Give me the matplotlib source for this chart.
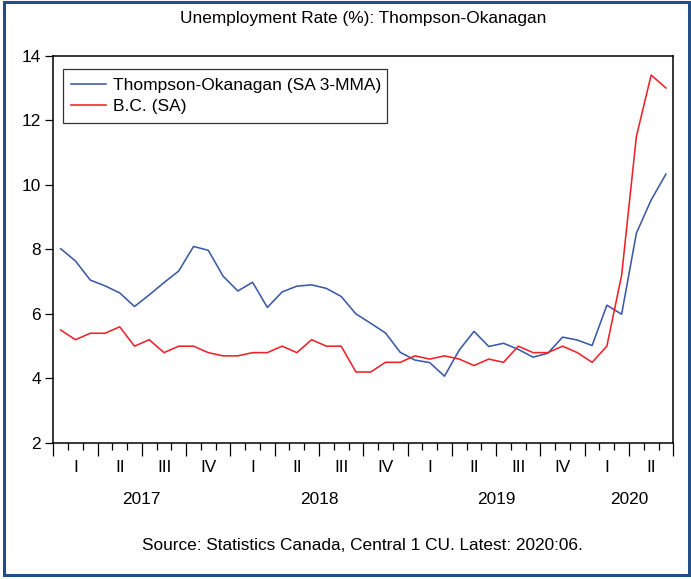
import matplotlib
matplotlib.use("Agg")
import matplotlib.pyplot as plt
import matplotlib.patches as mpatches
from matplotlib.transforms import blended_transform_factory
import numpy as np

plt.rcParams['font.family'] = ['Liberation Sans', 'DejaVu Sans']

# Monthly data Jan 2017 - Jun 2020
thompson = [8.02, 7.64, 7.05, 6.87, 6.65, 6.23, 6.59, 6.97, 7.33, 8.09, 7.97, 7.17,
            6.71, 6.98, 6.20, 6.68, 6.86, 6.90, 6.79, 6.54, 6.00, 5.71, 5.41, 4.81,
            4.57, 4.49, 4.07, 4.88, 5.46, 4.99, 5.09, 4.90, 4.66, 4.78, 5.28, 5.19,
            5.02, 6.27, 5.99, 8.50, 9.53, 10.33]
bc = [5.5, 5.2, 5.4, 5.4, 5.6, 5.0, 5.2, 4.8, 5.0, 5.0, 4.8, 4.7,
      4.7, 4.8, 4.8, 5.0, 4.8, 5.2, 5.0, 5.0, 4.2, 4.2, 4.5, 4.5,
      4.7, 4.6, 4.7, 4.6, 4.4, 4.6, 4.5, 5.0, 4.8, 4.8, 5.0, 4.8,
      4.5, 5.0, 7.2, 11.5, 13.4, 13.0]
quarter_labels = ["I", "II", "III", "IV"]
years = ["2017", "2018", "2019", "2020"]
yticks = [2, 4, 6, 8, 10, 12, 14]
series_names = ["Thompson-Okanagan (SA 3-MMA)", "B.C. (SA)"]
title = "Unemployment Rate (%): Thompson-Okanagan"
source = "Source: Statistics Canada, Central 1 CU. Latest: 2020:06."

W, H = 691, 579
FS = 12.4
fig = plt.figure(figsize=(W / 100, H / 100), dpi=100)
ax = fig.add_axes([53.3 / W, 1 - 443 / H, 620 / W, 387.3 / H])

n = len(thompson)
x = np.arange(n) + 0.5
ax.plot(x, thompson, color="#3b5aa6", lw=1.15, label=series_names[0])
ax.plot(x, bc, color="#ee2229", lw=1.15, label=series_names[1])

ax.set_xlim(0, n)
ax.set_ylim(2, 14)
ax.set_yticks(yticks)
ax.set_yticklabels([str(v) for v in yticks], fontsize=FS)
ax.tick_params(axis='y', direction='out', length=6, width=0.9, pad=3)

ax.set_xticks(np.arange(0, n + 1, 3))
ax.set_xticks(np.arange(0, n + 1, 1), minor=True)
ax.set_xticklabels([])
ax.tick_params(axis='x', which='major', direction='out', length=9, width=0.9)
ax.tick_params(axis='x', which='minor', direction='out', length=5, width=0.9)

for s in ax.spines.values():
    s.set_linewidth(1.1)
    s.set_color("black")

trans = blended_transform_factory(ax.transData, fig.transFigure)
for q in range(n // 3):
    ax.text(q * 3 + 1.5, 1 - 467 / H, quarter_labels[q % 4], transform=trans,
            ha='center', va='center', fontsize=FS)
for i, yr in enumerate(years):
    months = min(12, n - 12 * i)
    ax.text(12 * i + months / 2, 1 - 500 / H, yr, transform=trans,
            ha='center', va='center', fontsize=FS)

fig.text(363 / W, 1 - 18 / H, title, ha='center', va='center', fontsize=FS)
fig.text(362 / W, 1 - 546 / H, source, ha='center', va='center', fontsize=FS)

leg = ax.legend(loc='upper left', bbox_to_anchor=(0.0152, 0.830, 0.5225, 0.135),
                mode='expand', fontsize=12.5, frameon=True, fancybox=False,
                handlelength=2.0, handletextpad=0.4, borderaxespad=0,
                labelspacing=0.35, borderpad=0.5)
leg.get_frame().set_edgecolor("black")
leg.get_frame().set_linewidth(0.9)

rect = mpatches.Rectangle((3.5 / W, 4.5 / H), 685.5 / W, 573 / H, transform=fig.transFigure,
                          fill=False, edgecolor="#1f4e89", lw=2.2)
fig.patches.append(rect)

fig.savefig("out.png", dpi=100)
